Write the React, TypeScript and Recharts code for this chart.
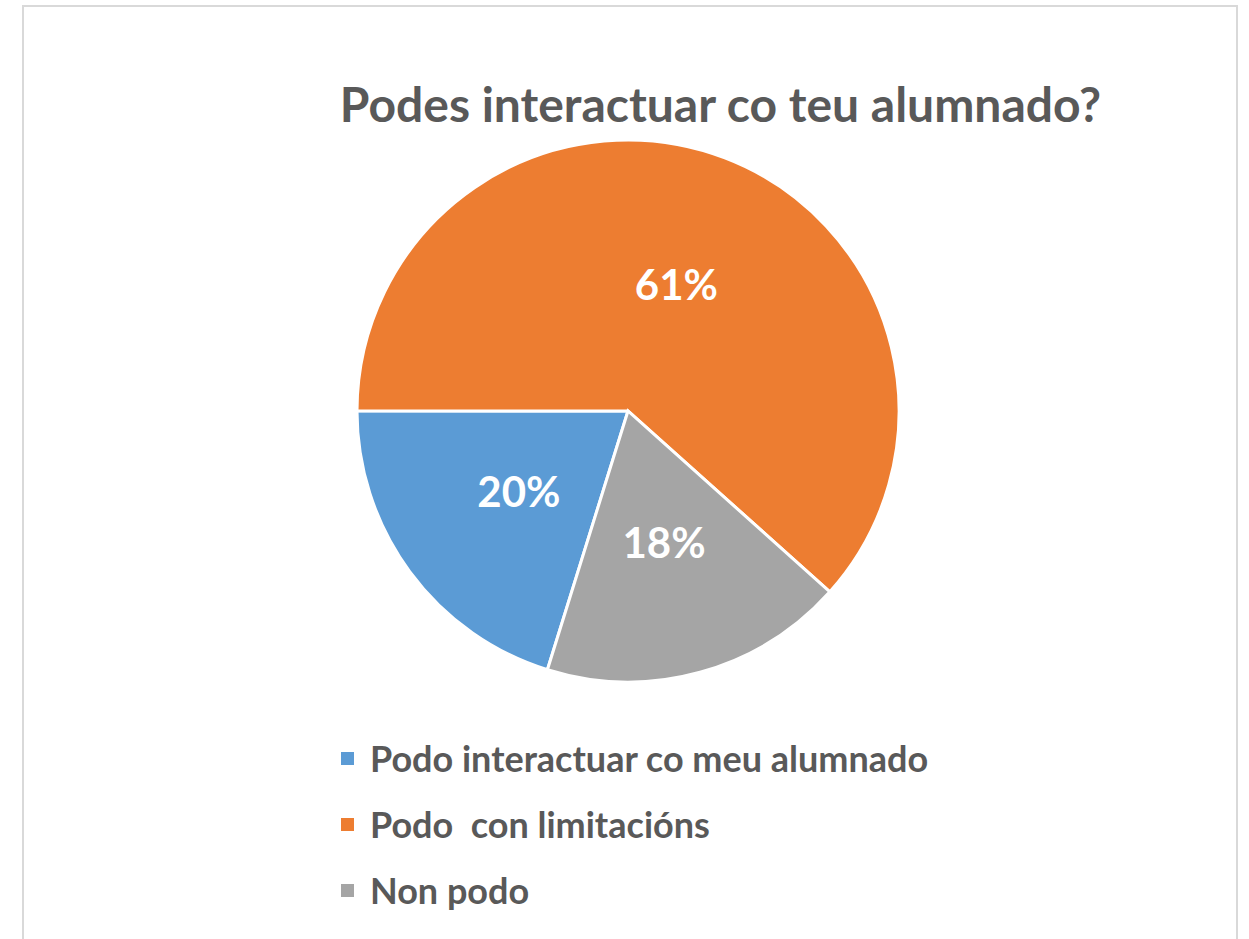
import { PieChart, Pie, Cell, Legend } from "recharts"

const categories = ["Podo interactuar co meu alumnado", "Podo  con limitacións", "Non podo"]
const shares = [20, 61, 18]
const colors = ["#5B9BD5", "#ED7D31", "#A5A5A5"]

const data = categories.map((name, i) => ({ name, value: shares[i] }))

const RAD = Math.PI / 180
const font = "Lato, 'Open Sans', sans-serif"

function renderLabel(props: any) {
  const { cx, cy, midAngle, outerRadius, value } = props
  const r = outerRadius * 0.5
  const x = cx + r * Math.cos(-midAngle * RAD)
  const y = cy + r * Math.sin(-midAngle * RAD)
  return (
    <text
      x={x}
      y={y}
      fill="#fff"
      textAnchor="middle"
      dominantBaseline="central"
      fontFamily={font}
      fontWeight={700}
      fontSize={42}
    >
      {`${value}%`}
    </text>
  )
}

function renderLegend(props: any) {
  const { payload } = props
  return (
    <div>
      {payload.map((p: any) => (
        <div
          key={p.value}
          style={{ display: "flex", alignItems: "center", height: 66, whiteSpace: "pre" }}
        >
          <span style={{ width: 13, height: 13, background: p.color, marginRight: 16 }} />
          <span style={{ fontFamily: font, fontWeight: 700, fontSize: 36, color: "#595959" }}>
            {p.value}
          </span>
        </div>
      ))}
    </div>
  )
}

export default function App() {
  return (
    <div style={{ position: "relative", width: 1249, height: 939, background: "#fff", overflow: "hidden" }}>
      <style>{`body { margin: 0; }`}</style>
      <div
        style={{
          position: "absolute",
          left: 22,
          top: 5,
          width: 1216,
          height: 960,
          border: "2px solid #d9d9d9",
          boxSizing: "border-box",
        }}
      />
      <div
        style={{
          position: "absolute",
          left: 0,
          width: 1249,
          top: 74,
          textAlign: "center",
          paddingLeft: 192,
          boxSizing: "border-box",
          fontFamily: font,
          fontWeight: 700,
          fontSize: 48,
          color: "#595959",
          lineHeight: "60px",
        }}
      >
        Podes interactuar co teu alumnado?
      </div>
      <PieChart
        width={1249}
        height={939}
        margin={{ top: 0, right: 0, bottom: 0, left: 0 }}
        style={{ position: "absolute", left: 0, top: 0 }}
      >
        <Pie
          data={data}
          dataKey="value"
          nameKey="name"
          cx={628}
          cy={411}
          outerRadius={271}
          startAngle={252.7}
          endAngle={-107.3}
          stroke="#fff"
          strokeWidth={3}
          label={renderLabel}
          labelLine={false}
          isAnimationActive={false}
        >
          {data.map((d, i) => (
            <Cell key={d.name} fill={colors[i]} />
          ))}
        </Pie>
        <Legend
          layout="horizontal"
          verticalAlign="bottom"
          align="left"
          itemSorter={(item: any) => categories.indexOf(item.value)}
          content={renderLegend}
          wrapperStyle={{ left: 341, top: 725, bottom: "auto", width: 800 }}
        />
      </PieChart>
    </div>
  )
}
